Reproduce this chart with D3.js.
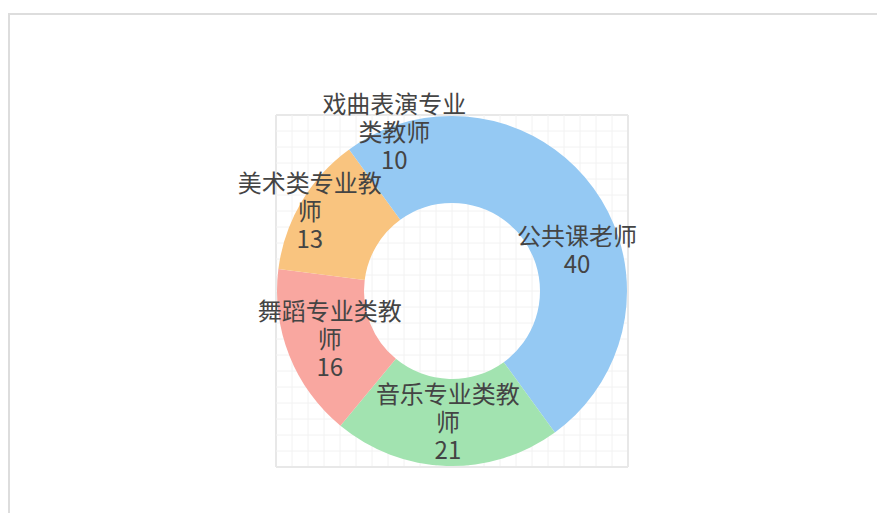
<!DOCTYPE html>
<html>
<head>
<meta charset="utf-8">
<script src="https://cdn.jsdelivr.net/npm/d3@7"></script>
<style>
  body { margin: 0; background: #fff; }
  svg { display: block; }
</style>
</head>
<body>
<svg width="877" height="513"></svg>
<script>
var svg = d3.select('svg');

// teacher categories and counts, in drawing order (clockwise from 12 o'clock)
var names = ['公共课老师', '音乐专业类教师', '舞蹈专业类教师', '美术类专业教师', '戏曲表演专业类教师'];
var values = [40, 21, 16, 13, 10];
var colors = ['#95c9f3', '#a2e3b0', '#f9a7a0', '#f9c47f', '#95c9f3'];
// labels that got pushed away from their slice centre to avoid overlapping
var labelNudge = [[0, 0], [0, 0], [0, 0], [-29, -12], [-17, -33]];

var cx = 452, cy = 291;
var outerR = 175, innerR = 88;

// page frame
svg.append('rect')
    .attr('x', 9).attr('y', 14)
    .attr('width', 900).attr('height', 520)
    .attr('fill', 'none')
    .attr('stroke', '#dddddd')
    .attr('stroke-width', 2);

// faint grid behind the donut
var gridX = d3.scaleLinear().domain([0, 22]).range([cx - 176, cx + 176]);
var gridY = d3.scaleLinear().domain([0, 22]).range([cy - 176, cy + 176]);
var grid = svg.append('g');
d3.range(0, 23).forEach(function(i){
    var edge = (i == 0 || i == 22);
    grid.append('line')
        .attr('x1', gridX(i)).attr('x2', gridX(i))
        .attr('y1', gridY(0)).attr('y2', gridY(22))
        .attr('stroke', edge ? '#e8e8e8' : '#f2f2f2')
        .attr('stroke-width', edge ? 2 : 1);
    grid.append('line')
        .attr('y1', gridY(i)).attr('y2', gridY(i))
        .attr('x1', gridX(0)).attr('x2', gridX(22))
        .attr('stroke', edge ? '#e8e8e8' : '#f2f2f2')
        .attr('stroke-width', edge ? 2 : 1);
});

var pie = d3.pie().sort(null).value(function(d){ return d; });
var arc = d3.arc().innerRadius(innerR).outerRadius(outerR);
var slices = pie(values);

var g = svg.append('g').attr('transform', 'translate(' + cx + ',' + cy + ')');

g.selectAll('.slice')
    .data(slices)
    .enter()
    .append('path')
    .attr('class', 'slice')
    .attr('d', arc)
    .attr('fill', function(d, i){ return colors[i]; });

// wrap a name into lines of at most 6 characters
function wrap(name){
    var lines = [];
    for (var k = 0; k < name.length; k += 6) lines.push(name.slice(k, k + 6));
    return lines;
}

var lineH = 28;
g.selectAll('.label')
    .data(slices)
    .enter()
    .append('text')
    .attr('class', 'label')
    .attr('text-anchor', 'middle')
    .attr('font-family', '"Noto Sans CJK SC", "Noto Sans", sans-serif')
    .attr('font-size', 24)
    .attr('fill', '#444')
    .each(function(d, i){
        var c = arc.centroid(d);
        var x = c[0] + labelNudge[i][0];
        var y = c[1] + labelNudge[i][1];
        var lines = wrap(names[i]).concat([String(values[i])]);
        var top = y - (lines.length - 1) * lineH / 2;
        var t = d3.select(this);
        lines.forEach(function(s, j){
            t.append('tspan')
                .attr('x', x)
                .attr('y', top + j * lineH)
                .attr('dy', '0.35em')
                .text(s);
        });
    });
</script>
</body>
</html>
